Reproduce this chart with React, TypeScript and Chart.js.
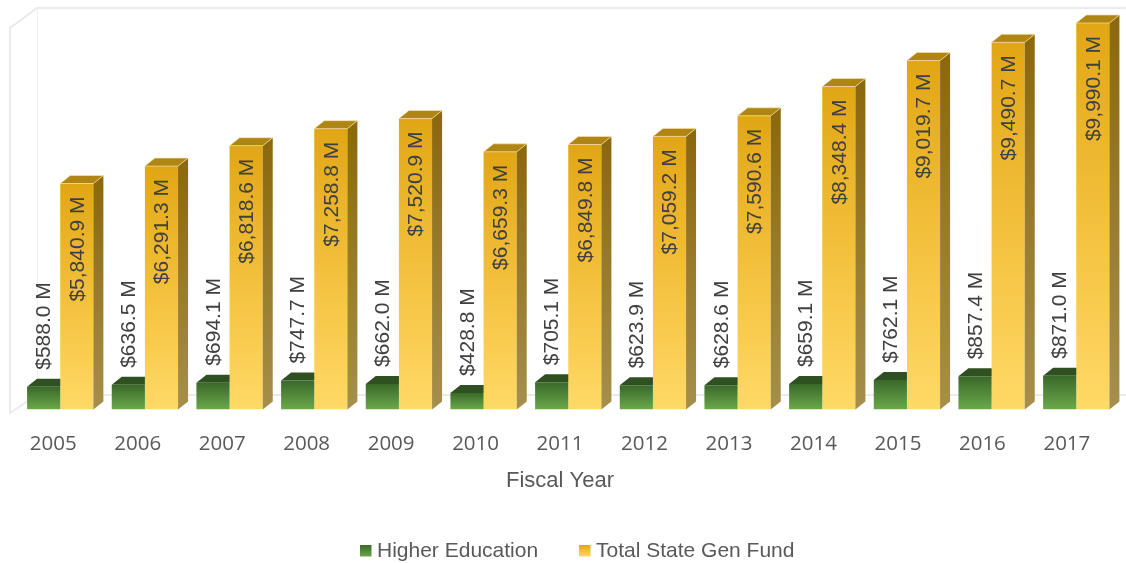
import React, { useEffect, useRef } from "react";
import { Chart, registerables } from "chart.js";

Chart.register(...registerables);

const years = ["2005", "2006", "2007", "2008", "2009", "2010", "2011", "2012", "2013", "2014", "2015", "2016", "2017"];
const higherEducation = [588.0, 636.5, 694.1, 747.7, 662.0, 428.8, 705.1, 623.9, 628.6, 659.1, 762.1, 857.4, 871.0];
const totalStateGenFund = [5840.9, 6291.3, 6818.6, 7258.8, 7520.9, 6659.3, 6849.8, 7059.2, 7590.6, 8348.4, 9019.7, 9490.7, 9990.1];
const seriesNames = ["Higher Education", "Total State Gen Fund"];
const axisTitle = "Fiscal Year";

const W = 1126;
const H = 563;
const DX = 10;
const DY = -8;
const SANS = '"Liberation Sans", Arial, sans-serif';
const TICK_FONT = '"Open Sans", Lato, sans-serif';

const fmt = (v: number) =>
  "$" + v.toLocaleString("en-US", { minimumFractionDigits: 1, maximumFractionDigits: 1 }) + " M";

const greenStops: [number, string][] = [
  [0, "#3A6829"],
  [1, "#6AA94B"],
];
const goldStops: [number, string][] = [
  [0, "#E1A615"],
  [0.5, "#F3C03C"],
  [1, "#FFD966"],
];

function gradFor(stops: [number, string][]) {
  return (ctx: any) => {
    const chart = ctx.chart;
    if (!chart.chartArea || ctx.type !== "data") return stops[0][1];
    const y = chart.scales.y;
    const top = y.getPixelForValue(ctx.raw);
    const base = y.getPixelForValue(0);
    const g = chart.ctx.createLinearGradient(0, top, 0, base);
    stops.forEach(([o, c]) => g.addColorStop(o, c));
    return g;
  };
}

function props(el: any) {
  return el.getProps(["x", "y", "base", "width"], true);
}

const bar3d = {
  id: "bar3d",
  beforeDraw(chart: any) {
    const ctx = chart.ctx;
    ctx.save();
    ctx.fillStyle = "#ffffff";
    ctx.fillRect(0, 0, W, H);
    ctx.strokeStyle = "#EBEBEB";
    ctx.lineWidth = 2;
    ctx.beginPath();
    ctx.moveTo(W, 8);
    ctx.lineTo(37, 8);
    ctx.lineTo(10, 28);
    ctx.lineTo(10, 413);
    ctx.lineTo(37, 395);
    ctx.lineTo(W, 395);
    ctx.stroke();
    ctx.lineWidth = 1;
    ctx.strokeStyle = "#F0F0F0";
    ctx.beginPath();
    ctx.moveTo(37.5, 8);
    ctx.lineTo(37.5, 395);
    ctx.stroke();
    ctx.restore();
  },
  beforeDatasetsDraw(chart: any) {
    // top faces of the green bars sit behind the gold front faces
    const ctx = chart.ctx;
    const meta = chart.getDatasetMeta(0);
    ctx.save();
    meta.data.forEach((el: any) => {
      const { x, y, width } = props(el);
      const l = x - width / 2;
      const r = x + width / 2;
      ctx.beginPath();
      ctx.moveTo(l, y);
      ctx.lineTo(r, y);
      ctx.lineTo(r + DX, y + DY);
      ctx.lineTo(l + DX, y + DY);
      ctx.closePath();
      ctx.fillStyle = "#2F5121";
      ctx.fill();
    });
    ctx.restore();
  },
  afterDatasetsDraw(chart: any) {
    const ctx = chart.ctx;
    const meta = chart.getDatasetMeta(1);
    ctx.save();
    meta.data.forEach((el: any) => {
      const { x, y, base, width } = props(el);
      const l = x - width / 2;
      const r = x + width / 2;
      // side
      const sg = ctx.createLinearGradient(0, y, 0, base);
      sg.addColorStop(0, "#8C680E");
      sg.addColorStop(1, "#A58F4C");
      ctx.beginPath();
      ctx.moveTo(r, y);
      ctx.lineTo(r + DX, y + DY);
      ctx.lineTo(r + DX, base + DY);
      ctx.lineTo(r, base);
      ctx.closePath();
      ctx.fillStyle = sg;
      ctx.fill();
      // top
      ctx.beginPath();
      ctx.moveTo(l, y);
      ctx.lineTo(r, y);
      ctx.lineTo(r + DX, y + DY);
      ctx.lineTo(l + DX, y + DY);
      ctx.closePath();
      ctx.fillStyle = "#AF8513";
      ctx.fill();
      ctx.strokeStyle = "rgba(245,225,170,0.7)";
      ctx.lineWidth = 1;
      ctx.stroke();
    });

    // value labels
    ctx.fillStyle = "#404040";
    ctx.font = `21px ${SANS}`;
    ctx.textBaseline = "middle";
    chart.getDatasetMeta(0).data.forEach((el: any, i: number) => {
      const { x, y } = props(el);
      ctx.save();
      ctx.translate(x, y - 17);
      ctx.rotate(-Math.PI / 2);
      ctx.textAlign = "left";
      ctx.fillText(fmt(higherEducation[i]), 0, 1);
      ctx.restore();
    });
    chart.getDatasetMeta(1).data.forEach((el: any, i: number) => {
      const { x, y } = props(el);
      ctx.save();
      ctx.translate(x, y + 13);
      ctx.rotate(-Math.PI / 2);
      ctx.textAlign = "right";
      ctx.fillText(fmt(totalStateGenFund[i]), 0, 1);
      ctx.restore();
    });
    ctx.restore();
  },
  afterDraw(chart: any) {
    const ctx = chart.ctx;
    const xs = chart.scales.x;
    ctx.save();
    ctx.fillStyle = "#595959";
    ctx.textBaseline = "middle";
    ctx.textAlign = "center";
    ctx.font = `20.5px ${TICK_FONT}`;
    years.forEach((yr, i) => {
      ctx.fillText(yr, xs.getPixelForValue(i) - 7 - i * 0.2, 444);
    });
    ctx.font = `22px ${SANS}`;
    ctx.fillText(axisTitle, 560, 481);

    // legend
    ctx.font = `21px ${SANS}`;
    ctx.textAlign = "left";
    const items = [
      { name: seriesNames[0], x: 360, stops: greenStops },
      { name: seriesNames[1], x: 579, stops: goldStops },
    ];
    items.forEach((it) => {
      const g = ctx.createLinearGradient(0, 545, 0, 557);
      it.stops.forEach(([o, c]) => g.addColorStop(o, c));
      ctx.fillStyle = g;
      ctx.fillRect(it.x, 545, 11.5, 11.5);
      ctx.fillStyle = "#595959";
      ctx.fillText(it.name, it.x + 17, 551.5);
    });
    ctx.restore();
  },
};

export default function App() {
  const ref = useRef<HTMLCanvasElement | null>(null);

  useEffect(() => {
    document.body.style.margin = "0";
    const canvas = ref.current;
    if (!canvas) return;
    const chart = new Chart(canvas, {
      type: "bar",
      data: {
        labels: years,
        datasets: [
          {
            label: seriesNames[0],
            data: higherEducation,
            backgroundColor: gradFor(greenStops),
            borderWidth: 0,
          },
          {
            label: seriesNames[1],
            data: totalStateGenFund,
            backgroundColor: gradFor(goldStops),
            borderWidth: 0,
          },
        ],
      },
      options: {
        responsive: false,
        animation: false,
        devicePixelRatio: 1,
        layout: { padding: { left: 17.9, right: 7.4, top: 22.6, bottom: 153.5 } },
        plugins: {
          legend: { display: false },
          tooltip: { enabled: false },
        },
        datasets: {
          bar: { categoryPercentage: 0.783, barPercentage: 1 },
        },
        scales: {
          x: { display: false },
          y: { display: false, min: 0, max: 10000 },
        },
      },
      plugins: [bar3d],
    });
    return () => chart.destroy();
  }, []);

  return (
    <div style={{ width: W, height: H }}>
      <canvas ref={ref} width={W} height={H} style={{ display: "block" }} />
    </div>
  );
}
